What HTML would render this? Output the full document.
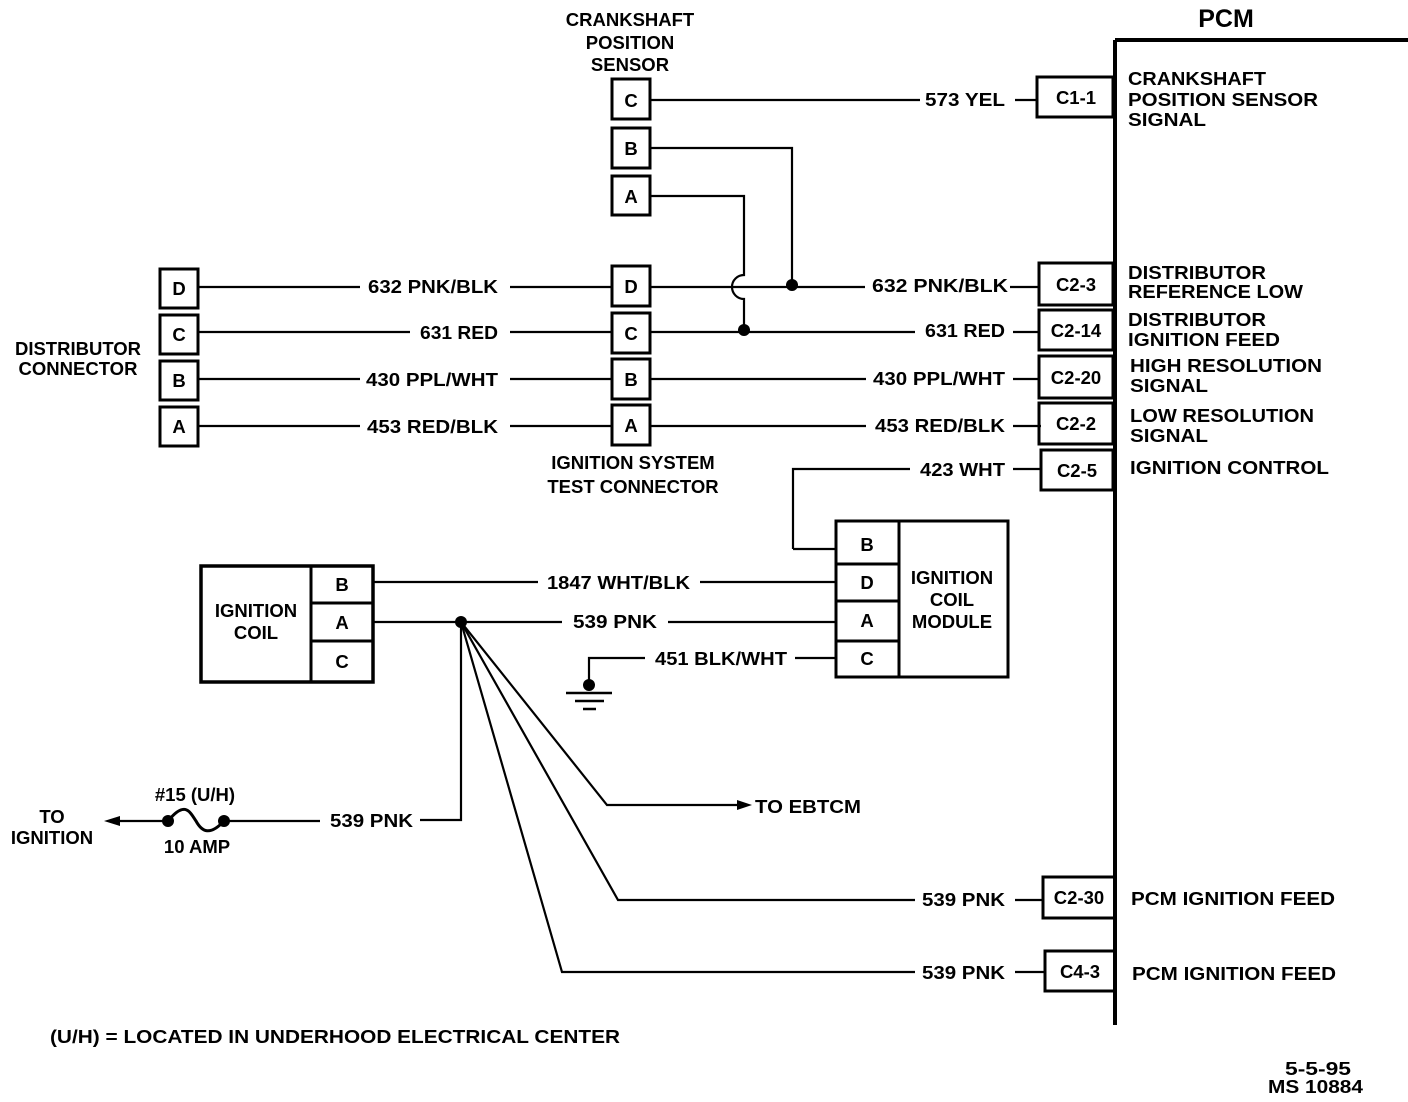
<!DOCTYPE html>
<html><head><meta charset="utf-8"><style>
html,body{margin:0;padding:0;background:#fff;}
svg{display:block;}
text{font-family:"Liberation Sans",Arial,sans-serif;font-weight:bold;font-size:18.5px;fill:#000;}
text.big{font-size:25px;}
</style></head><body>
<svg width="1408" height="1102" viewBox="0 0 1408 1102" xmlns="http://www.w3.org/2000/svg">
<g fill="none" stroke="#000" stroke-width="2.2">
<path d="M1115 40 V1025 M1115 40 H1408" stroke-width="4"/>
<rect x="1037" y="77" width="76" height="40" stroke-width="3"/>
<rect x="1039" y="263" width="74" height="42" stroke-width="3"/>
<rect x="1039" y="310" width="74" height="40" stroke-width="3"/>
<rect x="1039" y="356" width="74" height="42" stroke-width="3"/>
<rect x="1039" y="403" width="74" height="41" stroke-width="3"/>
<rect x="1041" y="450" width="72" height="40" stroke-width="3"/>
<rect x="1043" y="877" width="72" height="41" stroke-width="3"/>
<rect x="1045" y="951" width="70" height="40" stroke-width="3"/>
<rect x="612" y="79" width="38" height="40" stroke-width="3"/>
<rect x="612" y="128" width="38" height="40" stroke-width="3"/>
<rect x="612" y="176" width="38" height="39" stroke-width="3"/>
<rect x="612" y="266" width="38" height="40" stroke-width="3"/>
<rect x="612" y="313" width="38" height="40" stroke-width="3"/>
<rect x="612" y="359" width="38" height="40" stroke-width="3"/>
<rect x="612" y="405" width="38" height="40" stroke-width="3"/>
<rect x="160" y="269" width="38" height="39" stroke-width="3"/>
<rect x="160" y="315" width="38" height="39" stroke-width="3"/>
<rect x="160" y="361" width="38" height="39" stroke-width="3"/>
<rect x="160" y="407" width="38" height="39" stroke-width="3"/>
<path d="M650 100 H920 M1015 100 H1037"/>
<path d="M650 148 H792 V285"/>
<path d="M650 196 H744 V275 A12 12 0 0 0 744 299 V330"/>
<path d="M198 287 H360 M510 287 H612 M650 287 H865 M1010 287 H1039"/>
<path d="M198 332 H410 M510 332 H612 M650 332 H915 M1013 332 H1039"/>
<path d="M198 379 H360 M510 379 H612 M650 379 H866 M1013 379 H1039"/>
<path d="M198 426 H360 M510 426 H612 M650 426 H866 M1013 426 H1041"/>
<path d="M793 549 V469 H910 M1013 469 H1041 M793 549 H836"/>
<rect x="836" y="521" width="172" height="156" stroke-width="3"/>
<path d="M899 521 V677 M836 564 H899 M836 601 H899 M836 641 H899" stroke-width="3"/>
<rect x="201" y="566" width="172" height="116" stroke-width="3.5"/>
<path d="M311 566 V682 M311 603 H373 M311 641 H373" stroke-width="3"/>
<path d="M373 582 H538 M700 582 H836"/>
<path d="M373 622 H562 M668 622 H836"/>
<path d="M589 685 V658 H645 M795 658 H836"/>
<path d="M566 693 H612 M575 701 H604 M583 709 H596" stroke-width="2.5"/>
<path d="M461 622 V820 H420 M320 821 H225 M168 821 H112"/>
<path d="M461 622 L607 805 H745"/>
<path d="M461 622 L618 900 H915 M1015 900 H1043"/>
<path d="M461 622 L562 972 H915 M1015 972 H1045"/>
<path d="M168 821 C185 800 190 812 196 821 C202 832 210 836 224 821" stroke-width="3"/>
</g>
<g fill="#000">
<circle cx="792" cy="285" r="6"/>
<circle cx="744" cy="330" r="6"/>
<circle cx="461" cy="622" r="6"/>
<circle cx="589" cy="685" r="6"/>
<circle cx="168" cy="821" r="6"/>
<circle cx="224" cy="821" r="6"/>
<path d="M104 821 L120 816 L120 826 Z"/>
<path d="M752 805 L737 800 L737 810 Z"/>
</g>
<g text-anchor="middle">
<text x="630" y="26">CRANKSHAFT</text>
<text x="630" y="49">POSITION</text>
<text x="630" y="71">SENSOR</text>
<text x="1226" y="27" class="big">PCM</text>
<text x="631" y="107">C</text><text x="631" y="155">B</text><text x="631" y="203">A</text>
<text x="631" y="293">D</text><text x="631" y="340">C</text><text x="631" y="386">B</text><text x="631" y="432">A</text>
<text x="179" y="295">D</text><text x="179" y="341">C</text><text x="179" y="387">B</text><text x="179" y="433">A</text>
<text x="1076" y="104">C1-1</text><text x="1076" y="291">C2-3</text><text x="1076" y="337">C2-14</text>
<text x="1076" y="384">C2-20</text><text x="1076" y="430">C2-2</text><text x="1077" y="477">C2-5</text>
<text x="1079" y="904">C2-30</text><text x="1080" y="978">C4-3</text>
<text x="867" y="551">B</text><text x="867" y="589">D</text><text x="867" y="627">A</text><text x="867" y="665">C</text>
<text x="342" y="591">B</text><text x="342" y="629">A</text><text x="342" y="668">C</text>
<text x="952" y="584">IGNITION</text><text x="952" y="606">COIL</text><text x="952" y="628">MODULE</text>
<text x="256" y="617">IGNITION</text><text x="256" y="639">COIL</text>
<text x="78" y="355">DISTRIBUTOR</text><text x="78" y="375">CONNECTOR</text>
<text x="633" y="469">IGNITION SYSTEM</text><text x="633" y="493">TEST CONNECTOR</text>
<text x="52" y="823">TO</text><text x="52" y="844">IGNITION</text>
<text x="195" y="801">#15 (U/H)</text><text x="197" y="853">10 AMP</text>
</g>
<g lengthAdjust="spacingAndGlyphs">
<text x="925" y="106" textLength="80" lengthAdjust="spacingAndGlyphs">573 YEL</text>
<text x="368" y="293" textLength="130" lengthAdjust="spacingAndGlyphs">632 PNK/BLK</text>
<text x="872" y="292" textLength="136" lengthAdjust="spacingAndGlyphs">632 PNK/BLK</text>
<text x="420" y="339" textLength="78" lengthAdjust="spacingAndGlyphs">631 RED</text>
<text x="925" y="337" textLength="80" lengthAdjust="spacingAndGlyphs">631 RED</text>
<text x="366" y="386" textLength="132" lengthAdjust="spacingAndGlyphs">430 PPL/WHT</text>
<text x="873" y="385" textLength="132" lengthAdjust="spacingAndGlyphs">430 PPL/WHT</text>
<text x="367" y="433" textLength="131" lengthAdjust="spacingAndGlyphs">453 RED/BLK</text>
<text x="875" y="432" textLength="130" lengthAdjust="spacingAndGlyphs">453 RED/BLK</text>
<text x="920" y="476" textLength="85" lengthAdjust="spacingAndGlyphs">423 WHT</text>
<text x="547" y="589" textLength="143" lengthAdjust="spacingAndGlyphs">1847 WHT/BLK</text>
<text x="573" y="628" textLength="84" lengthAdjust="spacingAndGlyphs">539 PNK</text>
<text x="655" y="665" textLength="132" lengthAdjust="spacingAndGlyphs">451 BLK/WHT</text>
<text x="330" y="827" textLength="83" lengthAdjust="spacingAndGlyphs">539 PNK</text>
<text x="755" y="813" textLength="106" lengthAdjust="spacingAndGlyphs">TO EBTCM</text>
<text x="922" y="906" textLength="83" lengthAdjust="spacingAndGlyphs">539 PNK</text>
<text x="922" y="979" textLength="83" lengthAdjust="spacingAndGlyphs">539 PNK</text>
<text x="1128" y="85" textLength="138" lengthAdjust="spacingAndGlyphs">CRANKSHAFT</text>
<text x="1128" y="106" textLength="190" lengthAdjust="spacingAndGlyphs">POSITION SENSOR</text>
<text x="1128" y="126" textLength="78" lengthAdjust="spacingAndGlyphs">SIGNAL</text>
<text x="1128" y="279" textLength="138" lengthAdjust="spacingAndGlyphs">DISTRIBUTOR</text>
<text x="1128" y="298" textLength="175" lengthAdjust="spacingAndGlyphs">REFERENCE LOW</text>
<text x="1128" y="326" textLength="138" lengthAdjust="spacingAndGlyphs">DISTRIBUTOR</text>
<text x="1128" y="346" textLength="152" lengthAdjust="spacingAndGlyphs">IGNITION FEED</text>
<text x="1130" y="372" textLength="192" lengthAdjust="spacingAndGlyphs">HIGH RESOLUTION</text>
<text x="1130" y="392" textLength="78" lengthAdjust="spacingAndGlyphs">SIGNAL</text>
<text x="1130" y="422" textLength="184" lengthAdjust="spacingAndGlyphs">LOW RESOLUTION</text>
<text x="1130" y="442" textLength="78" lengthAdjust="spacingAndGlyphs">SIGNAL</text>
<text x="1130" y="474" textLength="199" lengthAdjust="spacingAndGlyphs">IGNITION CONTROL</text>
<text x="1131" y="905" textLength="204" lengthAdjust="spacingAndGlyphs">PCM IGNITION FEED</text>
<text x="1132" y="980" textLength="204" lengthAdjust="spacingAndGlyphs">PCM IGNITION FEED</text>
<text x="50" y="1043" textLength="570" lengthAdjust="spacingAndGlyphs">(U/H) = LOCATED IN UNDERHOOD ELECTRICAL CENTER</text>
<text x="1285" y="1075" textLength="66" lengthAdjust="spacingAndGlyphs">5-5-95</text>
<text x="1268" y="1093" textLength="95" lengthAdjust="spacingAndGlyphs">MS 10884</text>
</g>
</svg>
</body></html>
